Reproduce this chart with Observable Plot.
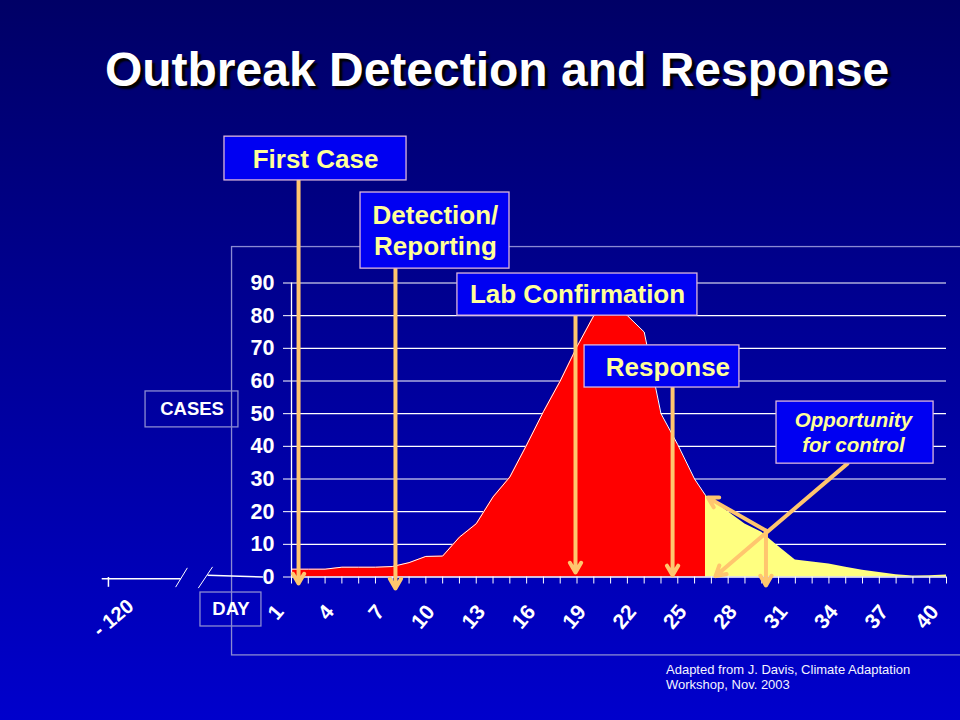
<!DOCTYPE html>
<html>
<head>
<meta charset="utf-8">
<script src="https://cdn.jsdelivr.net/npm/d3@7"></script>
<script src="https://cdn.jsdelivr.net/npm/@observablehq/plot@0.6"></script>
<style>
  html, body { margin: 0; padding: 0; }
  body {
    width: 960px; height: 720px; overflow: hidden;
    background: linear-gradient(#000066, #0000cc);
    font-family: "Liberation Sans", Arial, Helvetica, sans-serif;
  }
  #wrap { position: relative; width: 960px; height: 720px; }
  #title {
    box-sizing: border-box; height: 120px; padding-top: 46px; padding-left: 34px;
    text-align: center; color: #ffffff; font-size: 48px; line-height: 48px; font-weight: bold;
    text-shadow: 3px 3px 2px #000000;
  }
  #caption {
    position: absolute; left: 666px; top: 663px; color: #f4f4ff;
    font-size: 13px; line-height: 14.5px;
  }
</style>
</head>
<body>
<div id="wrap">
  <div id="title">Outbreak Detection and Response</div>
  <div id="chart"></div>
  <div id="caption">Adapted from J. Davis, Climate Adaptation<br>Workshop, Nov. 2003</div>
</div>
<script>
// ---- data ----
const days  = [1,2,3,4,5,6,7,8,9,10,11,12,13,14,15,16,17,18,19,20,21,22,23,24,25,25.65,26,27,28,29,30,31,32,33,34,35,36,37,38,39,40];
const cases = [2.4,2.4,2.4,3.0,3.0,3.0,3.2,4.4,6.3,6.4,12.2,16.3,24.5,30.6,40.4,50.6,60,70.5,80,83,80,75,50,40.5,30,25,23.7,20,16.2,13.7,9.3,5.2,4.6,4.0,3.0,2.1,1.4,0.7,0.3,0.4,0.6];
const controlStart = 25.65;          // start of the "opportunity for control" (yellow) period
const allDays   = d3.range(1, 41);
const labelDays = [1,4,7,10,13,16,19,22,25,28,31,34,37,40];
const yTicks    = [0,10,20,30,40,50,60,70,80,90];

// annotation boxes (in day / case units)
const boxes = [
  {text: "First Case",        x1: -2.99, x2: 7.85,  y1: 121.4, y2: 134.8, tx: 2.43,  ty: 128.4},
  {text: "Detection/\nReporting", x1: 5.11, x2: 13.98, y1: 94.4, y2: 117.7, tx: 9.57, ty: 106.4},
  {text: "Lab Confirmation",  x1: 10.88, x2: 25.17, y1: 80.0,  y2: 92.9,  tx: 18.03, ty: 86.8},
  {text: " Response",         x1: 18.45, x2: 27.67, y1: 58.0,  y2: 70.9,  tx: 23.2,  ty: 64.7},
  {text: "Opportunity\nfor control", x1: 29.88, x2: 39.23, y1: 34.7, y2: 53.7, tx: 34.46, ty: 44.5}
];
const arrows = [
  {x1: 1.42,  y1: 121.4, x2: 1.42,  y2: -2.0},
  {x1: 7.19,  y1: 94.4,  x2: 7.19,  y2: -3.5},
  {x1: 17.91, y1: 80.0,  x2: 17.91, y2: 1.4},
  {x1: 23.69, y1: 58.0,  x2: 23.69, y2: 0.5},
  {x1: 34.1,  y1: 34.7,  x2: 26.25, y2: 0.3},
  {x1: 29.25, y1: 14.2,  x2: 25.8,  y2: 24.3},
  {x1: 29.25, y1: 14.2,  x2: 29.25, y2: -2.6}
];
const sideLabels = [
  {text: "CASES", x1: -7.69, x2: -2.16, y1: 45.8,   y2: 56.8,  tx: -4.92, ty: 51.3},
  {text: "DAY",   x1: -4.42, x2: -0.79, y1: -15.15, y2: -4.75, tx: -2.60, ty: -9.95}
];
const frame = [{x1: -2.54, x2: 41.5, y1: -24.0, y2: 101.0}];
// broken axis towards day -120
const breakAxis   = [{x1: -10.3, y1: -0.5, x2: -5.6, y2: -0.5}, {x1: -4.0, y1: 0.5, x2: -0.7, y2: 0}];
const breakSlashes = [{x1: -5.9, y1: -3.1, x2: -5.2, y2: 2.8}, {x1: -4.55, y1: -3.4, x2: -3.7, y2: 3.1}];
const farTicks = [{x: -9.9, y1: 0, y2: -3, label: "- 120"}];

const series = days.map((d, i) => ({day: d, cases: cases[i]}));
const redData = series.filter(d => d.day <= controlStart);
const ctrlData = series.filter(d => d.day >= controlStart);

const ARROW = "#ffc66e", BOXFILL = "#0000f2", BOXLINE = "#dcb6dc", BOXTEXT = "#ffff99", FRAMELINE = "#8a8ad2";

const chart = Plot.plot({
  width: 960, height: 600,
  marginTop: 162.5, marginBottom: 143.5, marginLeft: 291, marginRight: 14,
  x: {domain: [1, 40]},
  y: {domain: [0, 90]},
  style: {background: "transparent", color: "white", fontFamily: "'Liberation Sans', Arial, Helvetica, sans-serif", overflow: "visible"},
  marks: [
    Plot.rect(frame, {x1: "x1", x2: "x2", y1: "y1", y2: "y2", fill: "none", stroke: FRAMELINE, strokeWidth: 1.3}),
    Plot.gridY(yTicks.filter(d => d > 0), {stroke: "white", strokeOpacity: 1, strokeWidth: 1.2}),
    Plot.areaY(redData, {x: "day", y: "cases", fill: "#ff0000"}),
    Plot.lineY(redData, {x: "day", y: "cases", stroke: "white", strokeWidth: 1}),
    Plot.areaY(ctrlData, {x: "day", y: "cases", fill: "#ffff80"}),
    Plot.ruleX([1], {x: d => d, y1: 0, y2: 90, stroke: "white", strokeWidth: 1.3}),
    Plot.ruleY([0], {y: d => d, x1: 1, x2: 40, stroke: "white", strokeWidth: 1.5}),
    Plot.axisX({ticks: allDays, tickSize: 7, tickFormat: () => "", label: null, stroke: "white"}),
    Plot.axisY({ticks: yTicks, tickSize: 8, tickFormat: () => "", label: null, stroke: "white"}),
    Plot.text(yTicks, {x: 1, y: d => d, text: d => String(d), textAnchor: "end", dx: -17, fontSize: 21.5, fontWeight: "bold", fill: "white"}),
    Plot.text(labelDays, {x: d => d, y: 0, text: d => String(d), rotate: -50, textAnchor: "end", dx: -12, dy: 31, fontSize: 21, fontWeight: "bold", fill: "white"}),
    // broken axis
    Plot.link(breakAxis, {x1: "x1", y1: "y1", x2: "x2", y2: "y2", stroke: "white", strokeWidth: 1.5}),
    Plot.link(breakSlashes, {x1: "x1", y1: "y1", x2: "x2", y2: "y2", stroke: "white", strokeWidth: 1}),
    Plot.link(farTicks, {x1: "x", x2: "x", y1: "y1", y2: "y2", stroke: "white", strokeWidth: 1.5}),
    Plot.text(farTicks, {x: "x", y: 0, text: "label", rotate: -40, textAnchor: "middle", dx: 5, dy: 41, fontSize: 20, fontWeight: "bold", fill: "white"}),
    // side labels
    Plot.rect(sideLabels, {x1: "x1", x2: "x2", y1: "y1", y2: "y2", fill: "none", stroke: FRAMELINE, strokeWidth: 1.3}),
    Plot.text(sideLabels, {x: "tx", y: "ty", text: "text", fontSize: 18.5, fontWeight: "bold", fill: "white"}),
    // arrows
    Plot.arrow(arrows, {x1: "x1", y1: "y1", x2: "x2", y2: "y2", stroke: ARROW, strokeWidth: 4, headLength: 4.2}),
    // annotation boxes
    Plot.rect(boxes, {x1: "x1", x2: "x2", y1: "y1", y2: "y2", fill: BOXFILL, stroke: BOXLINE, strokeWidth: 1.3}),
    Plot.text(boxes.slice(0, 4), {x: "tx", y: "ty", text: "text", fontSize: 26, fontWeight: "bold", fill: BOXTEXT, lineHeight: 1.2}),
    Plot.text(boxes.slice(4), {x: "tx", y: "ty", text: "text", fontSize: 20.5, fontWeight: "bold", fontStyle: "italic", fill: BOXTEXT, lineHeight: 1.2})
  ]
});
document.getElementById("chart").appendChild(chart);
</script>
</body>
</html>
